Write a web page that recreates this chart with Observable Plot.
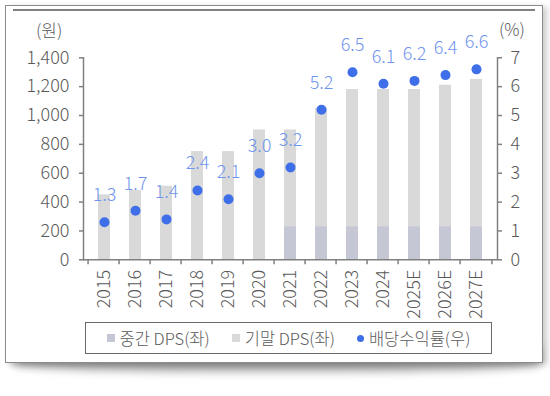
<!DOCTYPE html>
<html><head><meta charset="utf-8">
<script src="https://cdn.jsdelivr.net/npm/d3@7"></script>
<script src="https://cdn.jsdelivr.net/npm/@observablehq/plot@0.6"></script>
<style>
html,body{margin:0;padding:0;background:#fff;width:550px;height:396px;overflow:hidden;font-family:"Noto Sans CJK KR",sans-serif;font-weight:300;}
#stage{position:relative;width:550px;height:396px;}
#sh{position:absolute;left:14px;width:526px;top:335px;height:24px;background:#999;box-shadow:0 12px 10px rgba(0,0,0,0.4);border-radius:0 0 40% 40% / 0 0 30% 30%;}
#frame{position:absolute;left:5px;top:5px;width:536px;height:356px;border:1px solid #8c8c8c;background:#fff;box-shadow:4px 2px 6px rgba(0,0,0,0.2);}
#topline{position:absolute;left:13px;top:9px;width:522px;height:2px;background:#808080;}
#chart{position:absolute;left:0;top:0;}
.unit{position:absolute;font-size:17px;color:#595959;font-weight:300;}
#legend{position:absolute;left:85px;top:322px;width:405px;height:30px;border:1.5px solid #6a6a6a;display:flex;align-items:center;justify-content:center;gap:22px;font-size:16.5px;color:#595959;font-weight:300;}
.item{display:flex;align-items:center;gap:5px;white-space:nowrap;}
.sq{width:8px;height:8px;display:inline-block;}
.dot{width:7px;height:7px;border-radius:50%;display:inline-block;}
</style></head>
<body><div id="stage">
<div id="sh"></div>
<div id="frame"></div>
<div id="topline"></div>
<div id="chart"></div>
<div class="unit" style="left:36px;top:17px;">(원)</div>
<div class="unit" style="left:499px;top:16px;">(%)</div>
<div id="legend"></div>
</div>
<script>
const years = ["2015","2016","2017","2018","2019","2020","2021","2022","2023","2024","2025E","2026E","2027E"];
const interimDps = [0,0,0,0,0,0,230,230,230,230,230,230,230];
const finalDps = [450,480,510,750,750,900,670,820,950,950,950,980,1020];
const dividendYield = [1.3,1.7,1.4,2.4,2.1,3.0,3.2,5.2,6.5,6.1,6.2,6.4,6.6];
const seriesNames = ["중간 DPS(좌)","기말 DPS(좌)","배당수익률(우)"];
const leftTicks = [0,200,400,600,800,1000,1200,1400];
const rightTicks = [0,1,2,3,4,5,6,7];

const barColors = ["#c5c7d5","#d9d9d9"];
const dotColor = "#3f6fe8";
const labelColor = "#6f95ee";
const axisColor = "#808080";
const textColor = "#595959";
const ratio = 1400 / 7; // right axis (%) mapped into left axis (원) space

const bars = [];
years.forEach((y,i)=>{
  bars.push({year:y, series:seriesNames[0], value:interimDps[i]});
  bars.push({year:y, series:seriesNames[1], value:finalDps[i]});
});
const yields = years.map((y,i)=>({year:y, value:dividendYield[i]}));
const step = (497-83)/years.length;
const font = "'Noto Sans CJK KR', sans-serif";

const plot = Plot.plot({
  width:550, height:320,
  marginLeft:83, marginRight:53, marginTop:57.3, marginBottom:60.7,
  style:{background:"transparent", fontFamily:font, fontSize:"18px", color:textColor},
  x:{domain:years, paddingInner:0.6, paddingOuter:0.3},
  y:{domain:[0,1400], nice:false},
  color:{domain:seriesNames.slice(0,2), range:barColors},
  marks:[
    Plot.barY(bars,{x:"year", y:"value", fill:"series", order:seriesNames.slice(0,2)}),
    Plot.frame({anchor:"left", stroke:axisColor, strokeWidth:1.5}),
    Plot.frame({anchor:"right", stroke:axisColor, strokeWidth:1.5}),
    Plot.ruleY([0],{stroke:axisColor, strokeWidth:1.5}),
    Plot.axisY({anchor:"left", ticks:leftTicks, tickFormat:d3.format(","), tickSize:4, tickPadding:10, stroke:axisColor, strokeWidth:1.5, fill:textColor, label:null, fontSize:18}),
    Plot.axisY({anchor:"right", ticks:rightTicks.map(t=>t*ratio), tickFormat:d=>String(d/ratio), tickSize:4, tickPadding:9, stroke:axisColor, strokeWidth:1.5, fill:textColor, label:null, fontSize:18}),
    Plot.axisX({tickRotate:-90, tickSize:0, tickPadding:10, fill:textColor, label:null, fontSize:18}),
    Plot.dot(yields,{x:"year", y:d=>d.value*ratio, r:5, fill:dotColor}),
    Plot.text(yields,{x:"year", y:d=>d.value*ratio, text:d=>d.value.toFixed(1), dy:-27, fill:labelColor, fontSize:18})
  ]
});
plot.querySelectorAll("text").forEach(t=>{t.style.fontFamily=font; t.style.fontWeight="300";});
document.getElementById("chart").appendChild(plot);

// x-axis boundary ticks (between categories), drawn below the axis line
const svg = d3.select(plot);
const xs = plot.scale("x");
const ys = plot.scale("y");
const bounds = years.map(y=>xs.apply(y) + xs.bandwidth/2 - step/2);
bounds.push(bounds[bounds.length-1]+step);
const y0 = ys.apply(0);
svg.append("g").selectAll("line").data(bounds).join("line")
  .attr("x1",d=>d).attr("x2",d=>d).attr("y1",y0).attr("y2",y0+5)
  .attr("stroke",axisColor).attr("stroke-width",1.5);

// legend
const lg = document.getElementById("legend");
const markers = [`<span class="sq" style="background:${barColors[0]}"></span>`,`<span class="sq" style="background:${barColors[1]}"></span>`,`<span class="dot" style="background:${dotColor}"></span>`];
seriesNames.forEach((n,i)=>{
  const it=document.createElement("div"); it.className="item";
  it.innerHTML = markers[i]+`<span>${n}</span>`;
  lg.appendChild(it);
});
</script>
</body></html>
